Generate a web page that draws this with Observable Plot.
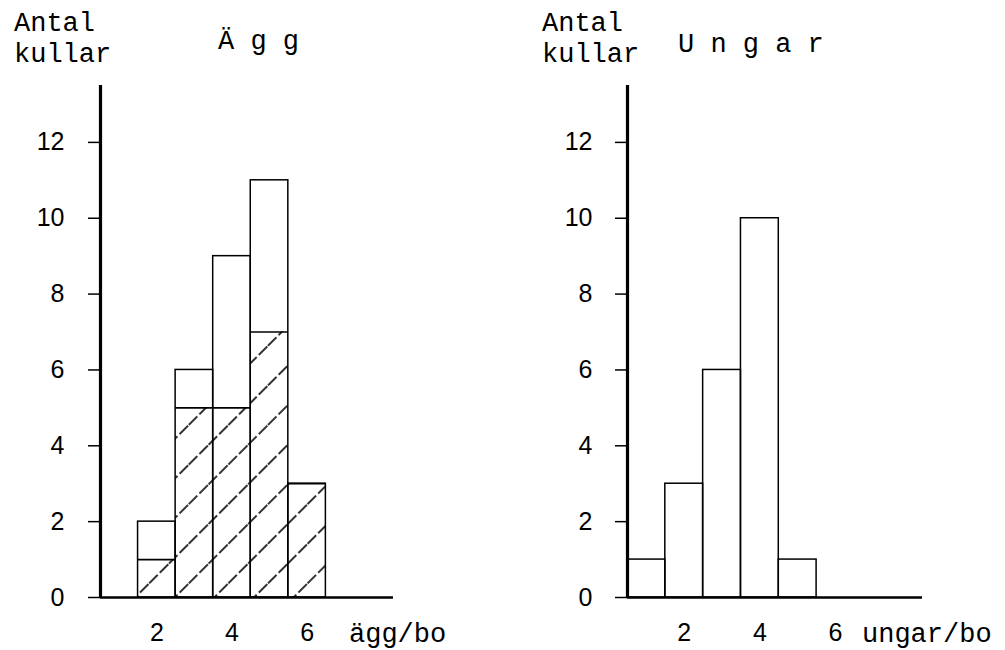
<!DOCTYPE html>
<html>
<head>
<meta charset="utf-8">
<script src="https://cdn.jsdelivr.net/npm/d3@7"></script>
<script src="https://cdn.jsdelivr.net/npm/@observablehq/plot@0.6"></script>
<style>
  html, body { margin: 0; padding: 0; background: #fff; }
  #c { position: relative; width: 1005px; height: 650px; background: #fff; overflow: hidden; }
  .pan { position: absolute; top: 0; }
  .tw { position: absolute; font-family: "Liberation Mono", monospace; font-size: 27px; line-height: 1; white-space: pre; color: #000; }
</style>
</head>
<body>
<div id="c">
  <div id="left" class="pan" style="left:0px"></div>
  <div id="right" class="pan" style="left:500px"></div>
  <div class="tw" style="left:14px;top:11px">Antal</div>
  <div class="tw" style="left:14px;top:42px">kullar</div>
  <div class="tw" style="left:218px;top:29px">Ä g g</div>
  <div class="tw" style="left:349px;top:622px">ägg/bo</div>
  <div class="tw" style="left:542px;top:11px">Antal</div>
  <div class="tw" style="left:542px;top:42px">kullar</div>
  <div class="tw" style="left:678px;top:32px">U n g a r</div>
  <div class="tw" style="left:862px;top:622px">ungar/bo</div>
</div>
<script>
// Data
const eggClasses = [2, 3, 4, 5, 6];
const eggTotal = [2, 6, 9, 11, 3];
const eggHatched = [1, 5, 5, 7, 3];
const chickClasses = [1, 2, 3, 4, 5];
const chickTotal = [1, 3, 6, 10, 1];
const xTicks = [2, 4, 6];
const yTicks = [0, 2, 4, 6, 8, 10, 12];

const eggs = eggClasses.map((k, i) => ({k, total: eggTotal[i], hatched: eggHatched[i]}));
const chicks = chickClasses.map((k, i) => ({k, total: chickTotal[i]}));

const X_DOMAIN = [0.5, 8.3];
const Y_DOMAIN = [0, 13.5];

function hatchDefs() {
  const defs = d3.create("svg:defs");
  const p = defs.append("pattern")
    .attr("id", "hatch")
    .attr("patternUnits", "userSpaceOnUse")
    .attr("width", 28).attr("height", 28)
    .attr("patternTransform", "rotate(45)");
  p.append("line")
    .attr("x1", 14).attr("y1", 0).attr("x2", 14).attr("y2", 28)
    .attr("stroke", "#000").attr("stroke-width", 1.6)
    .attr("stroke-dasharray", "12,3");
  return defs.node();
}

function panel({data, width, marginLeft, marginRight, hatched, tickSize, tickPadding}) {
  const marks = [];
  if (hatched) {
    marks.push(() => hatchDefs());
    marks.push(Plot.rect(data, {x1: d => d.k - 0.5, x2: d => d.k + 0.5, y1: 0, y2: "hatched", fill: "url(#hatch)"}));
  }
  marks.push(Plot.rect(data, {x1: d => d.k - 0.5, x2: d => d.k + 0.5, y1: 0, y2: "total", fill: "none", stroke: "#000", strokeWidth: 1.5}));
  if (hatched) {
    marks.push(Plot.ruleY(data, {x1: d => d.k - 0.5, x2: d => d.k + 0.5, y: "hatched", stroke: "#000", strokeWidth: 1.7}));
  }
  marks.push(Plot.ruleX([X_DOMAIN[0]], {y1: Y_DOMAIN[0], y2: Y_DOMAIN[1], stroke: "#000", strokeWidth: 3.2}));
  marks.push(Plot.ruleY([0], {x1: X_DOMAIN[0], x2: X_DOMAIN[1], stroke: "#000", strokeWidth: 2.6}));
  marks.push(Plot.axisY({ticks: yTicks, tickSize, tickPadding, label: null, tickFormat: d => String(d), fontSize: 25, strokeWidth: 1.5}));
  marks.push(Plot.axisX({ticks: xTicks, tickSize: 0, tickPadding: 26, label: null, tickFormat: d => String(d), fontSize: 25}));
  return Plot.plot({
    width, height: 650,
    marginLeft, marginRight, marginTop: 85, marginBottom: 53,
    x: {domain: X_DOMAIN, axis: null},
    y: {domain: Y_DOMAIN, axis: null},
    style: {fontFamily: "Liberation Sans, sans-serif", fontSize: "25px", color: "#000", background: "transparent"},
    marks
  });
}

document.getElementById("left").append(panel({data: eggs, width: 500, marginLeft: 100, marginRight: 107, hatched: true, tickSize: 12, tickPadding: 24}));
document.getElementById("right").append(panel({data: chicks, width: 505, marginLeft: 127, marginRight: 83, hatched: false, tickSize: 12, tickPadding: 23}));
</script>
</body>
</html>
